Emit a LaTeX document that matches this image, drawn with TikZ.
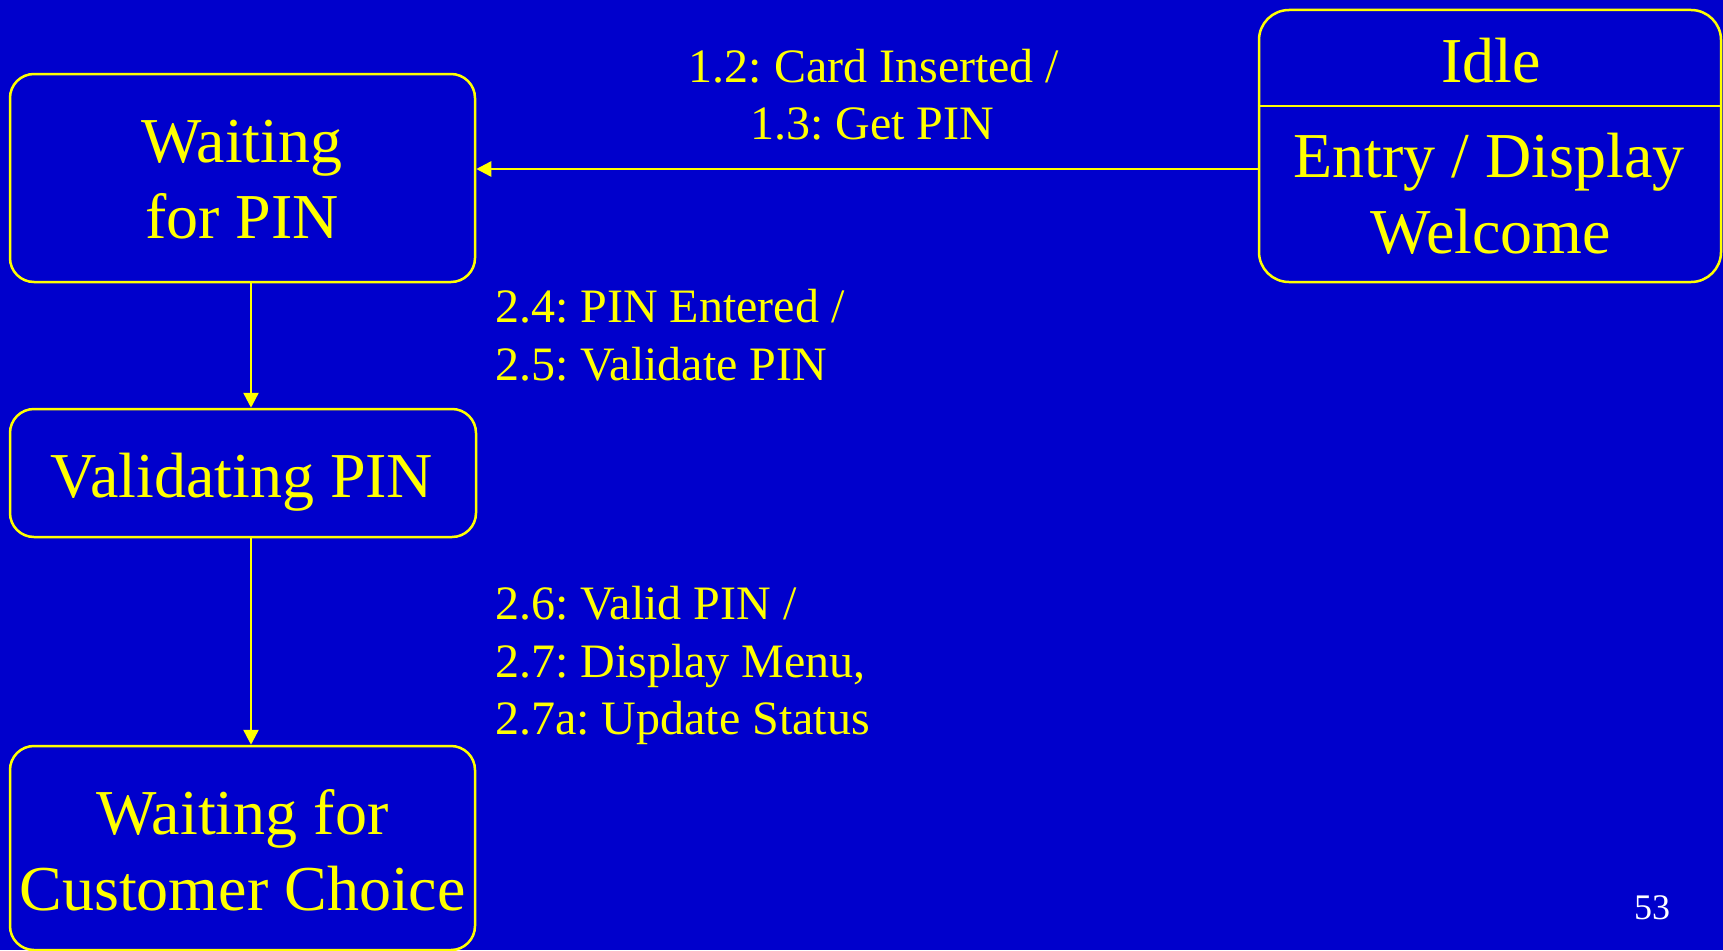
\documentclass[tikz,border=0pt]{standalone}
\usepackage{fontspec}
\setmainfont{Liberation Serif}
\usetikzlibrary{arrows.meta,calc}
\definecolor{bg}{HTML}{0000CC}
\definecolor{ylw}{HTML}{FFFF00}
\frenchspacing
\tikzset{
  statebox/.style={draw=ylw, line width=2.5pt, rounded corners=24pt, inner sep=0pt},
  big/.style={text=ylw, font=\fontsize{64}{76}\selectfont, inner sep=0pt, anchor=base},
  lbl/.style={text=ylw, font=\fontsize{48}{57}\selectfont, inner sep=0pt},
  arr/.style={draw=ylw, line width=2.5pt, -{Triangle[length=15pt,width=15pt]}},
}
\begin{document}
\begin{tikzpicture}[x=1pt,y=-1pt]
\fill[bg] (0,0) rectangle (1723,950);
\useasboundingbox (0,0) rectangle (1723,950);

\node[statebox, minimum width=465pt, minimum height=208pt] (w1) at (242.5,178) {};
\node[big] (w1a) at (242,162) {Waiting};
\node[big] (w1b) at (242,238) {for PIN};

\node[statebox, minimum width=466pt, minimum height=128pt] (v) at (243,473) {};
\node[big] (vt) at (242,497) {Validating PIN};

\node[statebox, minimum width=465pt, minimum height=204pt] (w2) at (242.5,848) {};
\node[big] (w2a) at (242.5,834) {Waiting for};
\node[big] (w2b) at (242.5,910) {Customer Choice};

\node[draw=ylw, line width=2.5pt, rounded corners=30pt, minimum width=462pt, minimum height=272pt, inner sep=0pt] (idle) at (1490,146) {};
\coordinate (dl) at (1259,106);
\coordinate (dr) at (1721,106);
\draw[draw=ylw, line width=2.5pt] (idle.west |- dl) -- (idle.east |- dr);
\node[big] (idlet) at (1491,82) {Idle};
\node[big] (entry) at (1489,177) {Entry / Display};
\node[big] (welc) at (1491,253) {Welcome};

\coordinate (ay) at (0,169);
\coordinate (ax) at (251,0);
\draw[arr] (idle.west |- ay) -- (w1.east |- ay);
\draw[arr] (w1.south -| ax) -- (v.north -| ax);
\draw[arr] (v.south -| ax) -- (w2.north -| ax);

\node[lbl, anchor=base] (l1a) at (874,82) {1.2: Card Inserted /};
\node[lbl, anchor=base] (l1b) at (872,139) {1.3: Get PIN};
\node[lbl, anchor=base west] (l2a) at (495,322) {2.4: PIN Entered /};
\node[lbl, anchor=base west] (l2b) at (495,380) {2.5: Validate PIN};
\node[lbl, anchor=base west] (l3a) at (495,619) {2.6: Valid PIN /};
\node[lbl, anchor=base west] (l3b) at (495,677) {2.7: Display Menu,};
\node[lbl, anchor=base west] (l3c) at (495,734) {2.7a: Update Status};

\node[text=white, font=\fontsize{36}{42}\selectfont, inner sep=0pt, anchor=base] (pg) at (1652,919) {53};
\end{tikzpicture}
\end{document}
